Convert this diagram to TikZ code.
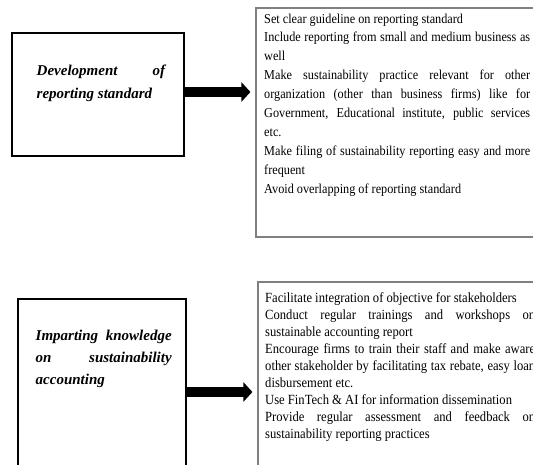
\documentclass[tikz,border=0pt]{standalone}
\usepackage{fontspec}
\setmainfont{Liberation Serif}
\newfontfamily\condserif[FakeStretch=0.9]{Liberation Serif}
\usetikzlibrary{arrows.meta}
\newcommand\Jst[2]{\makebox[#1][s]{#2}}
\begin{document}
\begin{tikzpicture}[x=1pt,y=-1pt,
  leftbox/.style={draw=black, line width=2pt, rectangle, inner sep=0pt},
  rightbox/.style={draw=black!50, line width=1.1pt, rectangle, inner sep=0pt},
  ltext/.style={anchor=base west, inner sep=0pt, font=\fontsize{15}{18}\selectfont\bfseries\itshape},
  rtexta/.style={anchor=base west, inner sep=0pt, font=\condserif\fontsize{13.6}{15}\selectfont},
  rtextb/.style={anchor=base west, inner sep=0pt, font=\condserif\fontsize{14}{15}\selectfont},
  bigarrow/.style={line width=10pt, -{Triangle[length=9pt,width=19pt]}, shorten >=5pt}
]
\useasboundingbox (0,0) rectangle (533,464);
\clip (0,0) rectangle (533,464);
\fill[white] (0,0) rectangle (533,464);

% boxes
\node[leftbox, minimum width=172pt, minimum height=123pt] (L1) at (98,94.5) {};
\node[rightbox, minimum width=289pt, minimum height=229pt] (R1) at (400.5,122.5) {};
\node[leftbox, minimum width=168pt, minimum height=191pt] (L2) at (102,394.5) {};
\node[rightbox, minimum width=287pt, minimum height=208pt] (R2) at (401.5,386) {};

% arrows
\coordinate (a1s) at ([yshift=2.5pt]L1.east);
\coordinate (a2s) at ([yshift=2.5pt]L2.east);
\draw[bigarrow] (a1s) -- (a1s -| R1.west);
\draw[bigarrow] (a2s) -- (a2s -| R2.west);

% left texts
\node[ltext] (t1a) at (36.5,75) {\Jst{128.5pt}{Development of}};
\node[ltext] (t1b) at (36.5,98.5) {reporting standard};
\node[ltext] (t2a) at (35.5,340) {\Jst{136pt}{Imparting knowledge}};
\node[ltext] (t2b) at (35.5,362) {\Jst{136pt}{on sustainability}};
\node[ltext] (t2c) at (35.5,384.5) {accounting};

% right text, box 1
\node[rtexta] (p1) at (264,23) {Set clear guideline on reporting standard};
\node[rtexta] (p2) at (264,41.9) {\Jst{266pt}{Include reporting from small and medium business as}};
\node[rtexta] (p3) at (264,60.8) {well};
\node[rtexta] (p4) at (264,79.7) {\Jst{266pt}{Make sustainability practice relevant for other}};
\node[rtexta] (p5) at (264,98.6) {\Jst{266pt}{organization (other than business firms) like for}};
\node[rtexta] (p6) at (264,117.5) {\Jst{266pt}{Government, Educational institute, public services}};
\node[rtexta] (p7) at (264,136.4) {etc.};
\node[rtexta] (p8) at (264,155.3) {\Jst{266pt}{Make filing of sustainability reporting easy and more}};
\node[rtexta] (p9) at (264,174.2) {frequent};
\node[rtexta] (p10) at (264,193.1) {Avoid overlapping of reporting standard};

% right text, box 2
\node[rtextb] (q1) at (265,302.5) {Facilitate integration of objective for stakeholders};
\node[rtextb] (q2) at (265,319.5) {\Jst{270pt}{Conduct regular trainings and workshops on}};
\node[rtextb] (q3) at (265,336.5) {sustainable accounting report};
\node[rtextb] (q4) at (265,353.5) {\Jst{270pt}{Encourage firms to train their staff and make aware}};
\node[rtextb] (q5) at (265,370.5) {\Jst{270pt}{other stakeholder by facilitating tax rebate, easy loan}};
\node[rtextb] (q6) at (265,387.5) {disbursement etc.};
\node[rtextb] (q7) at (265,404.5) {Use FinTech \& AI for information dissemination};
\node[rtextb] (q8) at (265,421.5) {\Jst{270pt}{Provide regular assessment and feedback on}};
\node[rtextb] (q9) at (265,438.5) {sustainability reporting practices};
\end{tikzpicture}
\end{document}
